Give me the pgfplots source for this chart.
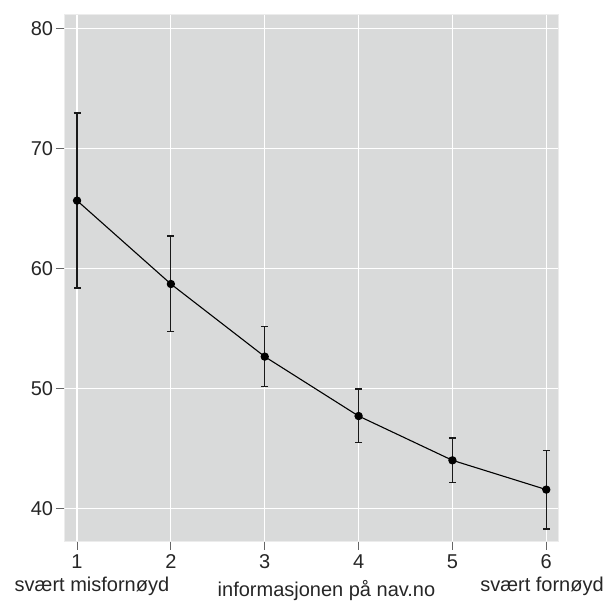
\documentclass[border=0pt]{standalone}
\usepackage{fontspec}
\setmainfont{Liberation Sans}
\usepackage{pgfplots}
\pgfplotsset{compat=1.18}
\definecolor{panel}{HTML}{D9DADA}
\begin{document}
\begin{tikzpicture}
\useasboundingbox (-64pt,-59.3pt) rectangle (544pt,541.7pt);
\begin{axis}[
 scale only axis, width=494.3pt, height=527pt,
 xmin=0.861, xmax=6.128, ymin=37.22, ymax=81.13,
 axis background/.style={fill=panel},
 axis line style={draw=white!85!gray, line width=0.8pt},
 grid=major, grid style={white, line width=1.2pt},
 xtick={1,...,6}, ytick={40,50,...,80},
 tick align=outside, major tick length=8pt,
 tick style={draw=black!60, line width=0.9pt},
 xtick pos=bottom, ytick pos=left,
 tick label style={font=\fontsize{20}{24}\selectfont, text=black!85, inner sep=0pt},
 /pgf/number format/assume math mode=true,
 xticklabel style={yshift=-5pt},
 yticklabel style={xshift=-2.7pt},
 clip=false,
]
\addplot[black, line width=1.1pt, mark=*, mark size=3.6pt,
  error bars/.cd, y dir=both, y explicit,
  error bar style={line width=1.1pt, black!90},
  error mark options={line width=1.1pt, mark size=3.5pt, rotate=90}]
 table[x=x, y=y, y error plus=ep, y error minus=em] {
x y ep em
1 65.64 7.30 7.28
2 58.69 4.00 3.97
3 52.64 2.50 2.50
4 47.69 2.25 2.22
5 44.00 1.86 1.86
6 41.56 3.28 3.28
};
\node[font=\fontsize{20}{24}\selectfont, text=black!85, anchor=base, inner sep=0pt] at ([yshift=-50pt]rel axis cs:0.0566,0) {svært misfornøyd};
\node[font=\fontsize{20}{24}\selectfont, text=black!85, anchor=base, inner sep=0pt] at ([yshift=-50pt]rel axis cs:0.967,0) {svært fornøyd};
\node[font=\fontsize{20}{24}\selectfont, text=black!85, anchor=base, inner sep=0pt] at ([yshift=-55pt]rel axis cs:0.531,0) {informasjonen på nav.no};
\end{axis}
\end{tikzpicture}
\end{document}
